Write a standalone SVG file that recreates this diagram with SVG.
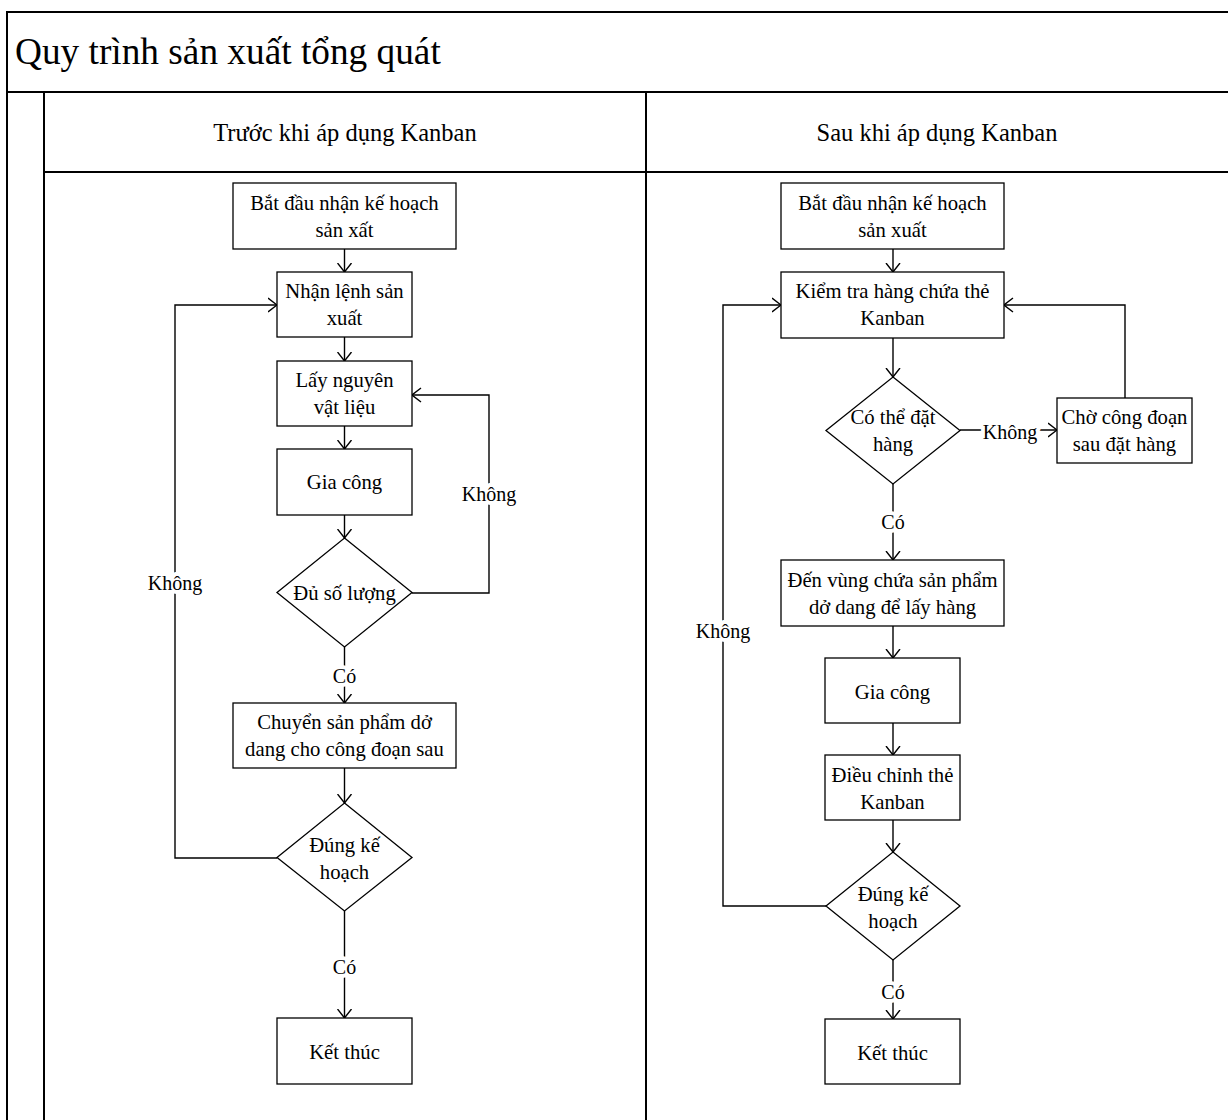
<svg xmlns="http://www.w3.org/2000/svg" width="1228" height="1120" viewBox="0 0 1228 1120">
  <defs>
    <marker id="arrow" viewBox="0 0 10 16" refX="9.5" refY="8" markerWidth="10" markerHeight="16" markerUnits="userSpaceOnUse" orient="auto">
      <path d="M0.5,1 L9.5,8 L0.5,15" fill="none" stroke="#000" stroke-width="1.4"/>
    </marker>
  </defs>
  <style>
    text { font-family: "Liberation Serif", "Times New Roman", serif; fill: #000; }
    .title { font-size: 37.3px; }
    .lane { font-size: 24.5px; text-anchor: middle; dominant-baseline: central; }
    .frame { fill: none; stroke: #000; stroke-width: 2; }
    .box { fill: #fff; stroke: #000; stroke-width: 1.3; }
    .txt { font-size: 20.7px; text-anchor: middle; dominant-baseline: central; }
    .edge { fill: none; stroke: #000; stroke-width: 1.4; marker-end: url(#arrow); }
    .lbl { font-size: 20px; text-anchor: middle; dominant-baseline: central; stroke: #fff; stroke-width: 8; stroke-linejoin: round; paint-order: stroke; }
  </style>

  <rect width="1228" height="1120" fill="#fff"/>

  <!-- pool and lanes -->
  <g id="pool">
    <path class="frame" d="M7,1130 V12 H1240"/>
    <path class="frame" d="M7,92 H1240"/>
    <path class="frame" d="M44,92 V1130"/>
    <path class="frame" d="M44,172 H1240"/>
    <path class="frame" d="M646,92 V1130"/>
    <text class="title" x="15" y="64">Quy trình sản xuất tổng quát</text>
    <text class="lane" x="345" y="132">Trước khi áp dụng Kanban</text>
    <text class="lane" x="937" y="132">Sau khi áp dụng Kanban</text>
  </g>

  <!-- connectors -->
  <g id="connectors">
    <!-- before Kanban -->
    <path class="edge" d="M344.5,249 V272"/>
    <path class="edge" d="M344.5,337 V361"/>
    <path class="edge" d="M344.5,426 V449"/>
    <path class="edge" d="M344.5,515 V538"/>
    <path class="edge" d="M344.5,647 V703"/>
    <path class="edge" d="M344.5,768 V803"/>
    <path class="edge" d="M344.5,911 V1018"/>
    <path class="edge" d="M277,858 H175 V305 H277"/>
    <path class="edge" d="M412,593 H489 V395 H412"/>
    <!-- after Kanban -->
    <path class="edge" d="M893,249 V272"/>
    <path class="edge" d="M893,338 V377"/>
    <path class="edge" d="M960,430 H1057"/>
    <path class="edge" d="M1125,398 V305 H1004"/>
    <path class="edge" d="M893,484 V560"/>
    <path class="edge" d="M893,626 V658"/>
    <path class="edge" d="M893,723 V755"/>
    <path class="edge" d="M893,820 V852"/>
    <path class="edge" d="M893,960 V1019"/>
    <path class="edge" d="M826,906 H723 V305 H781"/>
    <!-- branch labels -->
    <text class="lbl" x="344.5" y="676">Có</text>
    <text class="lbl" x="344.5" y="967">Có</text>
    <text class="lbl" x="175" y="583">Không</text>
    <text class="lbl" x="489" y="494">Không</text>
    <text class="lbl" x="1010" y="432">Không</text>
    <text class="lbl" x="893" y="522">Có</text>
    <text class="lbl" x="893" y="992">Có</text>
    <text class="lbl" x="723" y="631">Không</text>
  </g>

  <!-- before Kanban: nodes -->
  <g id="b-start">
    <rect class="box" x="233" y="183" width="223" height="66"/>
    <text class="txt" x="344.5" y="203">Bắt đầu nhận kế hoạch</text>
    <text class="txt" x="344.5" y="230">sản xất</text>
  </g>
  <g id="b-order">
    <rect class="box" x="277" y="272" width="135" height="65"/>
    <text class="txt" x="344.5" y="291">Nhận lệnh sản</text>
    <text class="txt" x="344.5" y="318">xuất</text>
  </g>
  <g id="b-material">
    <rect class="box" x="277" y="361" width="135" height="65"/>
    <text class="txt" x="344.5" y="380">Lấy nguyên</text>
    <text class="txt" x="344.5" y="407">vật liệu</text>
  </g>
  <g id="b-process">
    <rect class="box" x="277" y="449" width="135" height="66"/>
    <text class="txt" x="344.5" y="482">Gia công</text>
  </g>
  <g id="b-enough">
    <polygon class="box" points="344.5,538 412,592.5 344.5,647 277,592.5"/>
    <text class="txt" x="344.5" y="593">Đủ số lượng</text>
  </g>
  <g id="b-transfer">
    <rect class="box" x="233" y="703" width="223" height="65"/>
    <text class="txt" x="344.5" y="722">Chuyển sản phẩm dở</text>
    <text class="txt" x="344.5" y="749">dang cho công đoạn sau</text>
  </g>
  <g id="b-plan">
    <polygon class="box" points="344.5,803 412,857.5 344.5,911 277,857.5"/>
    <text class="txt" x="344.5" y="845">Đúng kế</text>
    <text class="txt" x="344.5" y="872">hoạch</text>
  </g>
  <g id="b-end">
    <rect class="box" x="277" y="1018" width="135" height="66"/>
    <text class="txt" x="344.5" y="1052">Kết thúc</text>
  </g>

  <!-- after Kanban: nodes -->
  <g id="a-start">
    <rect class="box" x="781" y="183" width="223" height="66"/>
    <text class="txt" x="892.5" y="203">Bắt đầu nhận kế hoạch</text>
    <text class="txt" x="892.5" y="230">sản xuất</text>
  </g>
  <g id="a-check">
    <rect class="box" x="781" y="272" width="223" height="66"/>
    <text class="txt" x="892.5" y="291">Kiểm tra hàng chứa thẻ</text>
    <text class="txt" x="892.5" y="318">Kanban</text>
  </g>
  <g id="a-can-order">
    <polygon class="box" points="893,377 960,430.5 893,484 826,430.5"/>
    <text class="txt" x="893" y="417">Có thể đặt</text>
    <text class="txt" x="893" y="444">hàng</text>
  </g>
  <g id="a-wait">
    <rect class="box" x="1057" y="398" width="135" height="65"/>
    <text class="txt" x="1124.5" y="417">Chờ công đoạn</text>
    <text class="txt" x="1124.5" y="444">sau đặt hàng</text>
  </g>
  <g id="a-fetch">
    <rect class="box" x="781" y="560" width="223" height="66"/>
    <text class="txt" x="892.5" y="580">Đến vùng chứa sản phẩm</text>
    <text class="txt" x="892.5" y="607">dở dang để lấy hàng</text>
  </g>
  <g id="a-process">
    <rect class="box" x="825" y="658" width="135" height="65"/>
    <text class="txt" x="892.5" y="692">Gia công</text>
  </g>
  <g id="a-adjust">
    <rect class="box" x="825" y="755" width="135" height="65"/>
    <text class="txt" x="892.5" y="775">Điều chỉnh thẻ</text>
    <text class="txt" x="892.5" y="802">Kanban</text>
  </g>
  <g id="a-plan">
    <polygon class="box" points="893,852 960,906 893,960 826,906"/>
    <text class="txt" x="893" y="894">Đúng kế</text>
    <text class="txt" x="893" y="921">hoạch</text>
  </g>
  <g id="a-end">
    <rect class="box" x="825" y="1019" width="135" height="65"/>
    <text class="txt" x="892.5" y="1053">Kết thúc</text>
  </g>
</svg>
